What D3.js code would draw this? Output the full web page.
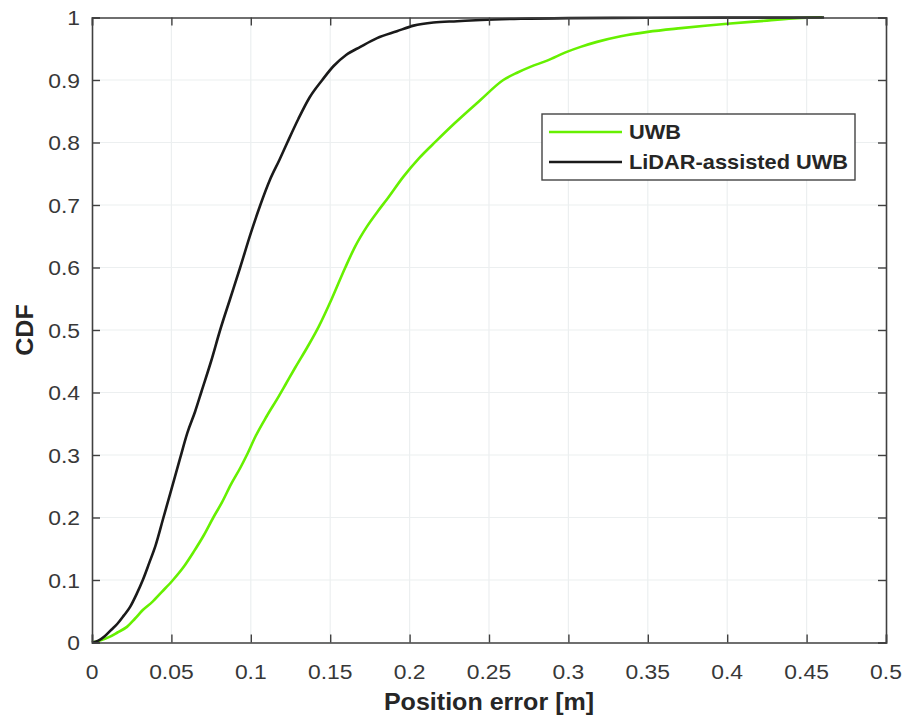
<!DOCTYPE html>
<html>
<head>
<meta charset="utf-8">
<script src="https://cdn.jsdelivr.net/npm/d3@7"></script>
<style>
  html, body { margin: 0; padding: 0; background: #fff; }
  svg { display: block; }
  text { font-family: "Liberation Sans", Arial, sans-serif; }
</style>
</head>
<body>
<svg id="chart" width="903" height="720"></svg>
<script>
// Empirical CDF of position error for the two localisation methods
const uwbErr = [0, 0.005, 0.011, 0.016, 0.022, 0.027, 0.032, 0.038, 0.044, 0.051, 0.058, 0.064, 0.0705, 0.0764, 0.082, 0.0875, 0.0935, 0.0975, 0.103, 0.11, 0.1174, 0.1217, 0.128, 0.1355, 0.1427, 0.151, 0.1595, 0.166, 0.173, 0.18, 0.186, 0.196, 0.206, 0.217, 0.228, 0.2446, 0.259, 0.268, 0.276, 0.2866, 0.299, 0.3077, 0.318, 0.333, 0.35, 0.371, 0.40, 0.425, 0.444, 0.46];
const uwbCdf = [0, 0.003, 0.009, 0.016, 0.025, 0.038, 0.052, 0.065, 0.081, 0.1, 0.122, 0.145, 0.172, 0.2, 0.225, 0.253, 0.28, 0.3, 0.33, 0.362, 0.393, 0.412, 0.44, 0.472, 0.505, 0.55, 0.6, 0.635, 0.665, 0.69, 0.71, 0.745, 0.775, 0.803, 0.83, 0.868, 0.9, 0.912, 0.921, 0.931, 0.945, 0.953, 0.961, 0.970, 0.977, 0.983, 0.990, 0.995, 0.999, 1];

const lidarErr = [0, 0.004, 0.008, 0.012, 0.016, 0.02, 0.024, 0.028, 0.032, 0.036, 0.04, 0.045, 0.05, 0.0555, 0.06, 0.065, 0.069, 0.075, 0.0807, 0.087, 0.0933, 0.1, 0.106, 0.112, 0.118, 0.123, 0.13, 0.137, 0.145, 0.152, 0.16, 0.169, 0.1795, 0.192, 0.2025, 0.215, 0.23, 0.245, 0.27, 0.3, 0.35, 0.407, 0.461];
const lidarCdf = [0, 0.003, 0.01, 0.02, 0.03, 0.043, 0.057, 0.077, 0.1, 0.127, 0.155, 0.2, 0.245, 0.295, 0.335, 0.37, 0.402, 0.45, 0.5, 0.55, 0.6, 0.655, 0.7, 0.74, 0.772, 0.8, 0.838, 0.872, 0.9, 0.922, 0.94, 0.953, 0.967, 0.978, 0.987, 0.992, 0.994, 0.996, 0.998, 0.999, 0.9995, 0.9998, 1];

const seriesNames = ["UWB", "LiDAR-assisted UWB"];
const seriesColors = ["#66f000", "#1a1a1a"];

const xTicks = [0, 0.05, 0.1, 0.15, 0.2, 0.25, 0.3, 0.35, 0.4, 0.45, 0.5];
const yTicks = [0, 0.1, 0.2, 0.3, 0.4, 0.5, 0.6, 0.7, 0.8, 0.9, 1];
const xLabel = "Position error [m]";
const yLabel = "CDF";

const series = [
  { name: seriesNames[0], color: seriesColors[0], pts: uwbErr.map((e, i) => [e, uwbCdf[i]]) },
  { name: seriesNames[1], color: seriesColors[1], pts: lidarErr.map((e, i) => [e, lidarCdf[i]]) }
];

const svg = d3.select("#chart");
const m = { left: 92, right: 17, top: 17.5, bottom: 77.5 };
const W = 903, H = 720;
const pw = W - m.left - m.right, ph = H - m.top - m.bottom;

const x = d3.scaleLinear().domain([0, 0.5]).range([m.left, m.left + pw]);
const y = d3.scaleLinear().domain([0, 1]).range([m.top + ph, m.top]);

const axisColor = "#404040";
const textColor = "#383838";
const stretch = 1.09;
const fmt = d => d === 0 ? "0" : (d === 1 ? "1" : String(+d.toFixed(2)));

// grid
const grid = svg.append("g");
grid.selectAll(".gx").data(xTicks.slice(1, -1)).join("line")
  .attr("x1", d => x(d)).attr("x2", d => x(d))
  .attr("y1", m.top).attr("y2", m.top + ph)
  .attr("stroke", "#eceff0").attr("stroke-width", 1.2);
grid.selectAll(".gy").data(yTicks.slice(1, -1)).join("line")
  .attr("y1", d => y(d)).attr("y2", d => y(d))
  .attr("x1", m.left).attr("x2", m.left + pw)
  .attr("stroke", "#eceff0").attr("stroke-width", 1.2);

// curves
const line = d3.line().x(d => x(d[0])).y(d => y(d[1])).curve(d3.curveMonotoneX);
svg.append("g").selectAll("path").data(series).join("path")
  .attr("d", d => line(d.pts))
  .attr("fill", "none")
  .attr("stroke", d => d.color)
  .attr("stroke-width", 2.6)
  .attr("stroke-linejoin", "round");

// axes: inward ticks on all four sides
const tickLen = 8;
const axB = d3.axisBottom(x).tickValues(xTicks).tickSize(-tickLen).tickFormat("");
const axT = d3.axisTop(x).tickValues(xTicks).tickSize(-tickLen).tickFormat("");
const axL = d3.axisLeft(y).tickValues(yTicks).tickSize(-tickLen).tickFormat("");
const axR = d3.axisRight(y).tickValues(yTicks).tickSize(-tickLen).tickFormat("");
function styleAxis(g) {
  g.selectAll("path").attr("stroke", axisColor).attr("stroke-width", 1.6);
  g.selectAll("line").attr("stroke", axisColor).attr("stroke-width", 1.4);
}
svg.append("g").attr("transform", `translate(0,${m.top + ph})`).call(axB).call(styleAxis);
svg.append("g").attr("transform", `translate(0,${m.top})`).call(axT).call(styleAxis);
svg.append("g").attr("transform", `translate(${m.left},0)`).call(axL).call(styleAxis);
svg.append("g").attr("transform", `translate(${m.left + pw},0)`).call(axR).call(styleAxis);

// tick labels
svg.append("g").selectAll("text").data(xTicks).join("text")
  .attr("transform", d => `translate(${x(d)},679) scale(${stretch},1)`)
  .attr("text-anchor", "middle")
  .attr("font-size", 21).attr("fill", textColor)
  .text(fmt);
svg.append("g").selectAll("text").data(yTicks).join("text")
  .attr("transform", d => `translate(80,${y(d) + 7.5}) scale(${stretch},1)`)
  .attr("text-anchor", "end")
  .attr("font-size", 21).attr("fill", textColor)
  .text(fmt);

// axis titles
svg.append("text")
  .attr("transform", `translate(${m.left + pw / 2},710) scale(${stretch},1)`)
  .attr("text-anchor", "middle").attr("font-size", 23).attr("font-weight", "bold")
  .attr("fill", "#262626").text(xLabel);
svg.append("text")
  .attr("transform", `translate(33,${m.top + ph / 2}) rotate(-90) scale(${stretch},1)`)
  .attr("text-anchor", "middle").attr("font-size", 23).attr("font-weight", "bold")
  .attr("fill", "#262626").text(yLabel);

// legend
const lg = svg.append("g");
lg.append("rect").attr("x", 542).attr("y", 114).attr("width", 313).attr("height", 66)
  .attr("fill", "#fff").attr("stroke", "#444").attr("stroke-width", 1.4);
const rows = lg.selectAll("g").data(series).join("g")
  .attr("transform", (d, i) => `translate(0,${132 + i * 30})`);
rows.append("line").attr("x1", 549).attr("x2", 622).attr("y1", 0).attr("y2", 0)
  .attr("stroke", d => d.color).attr("stroke-width", 2.6);
rows.append("text")
  .attr("transform", `translate(629,7) scale(${stretch},1)`)
  .attr("font-size", 20).attr("font-weight", "bold").attr("fill", "#262626")
  .text(d => d.name);
</script>
</body>
</html>
